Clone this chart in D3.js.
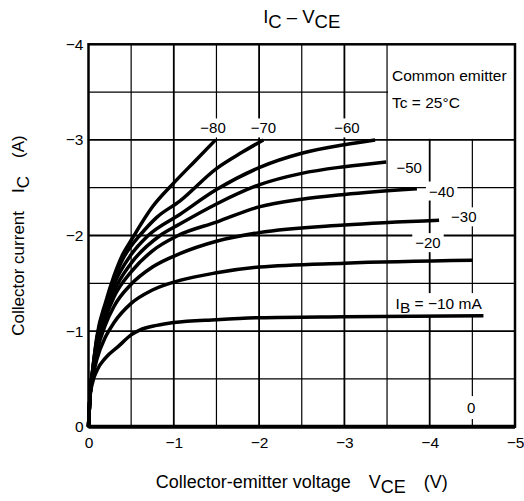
<!DOCTYPE html>
<html>
<head>
<meta charset="utf-8">
<script src="https://cdn.jsdelivr.net/npm/d3@7"></script>
<style>
  body { margin: 0; background: #fff; }
  text { font-family: "Liberation Sans", Arial, sans-serif; fill: #000; }
</style>
</head>
<body>
<script>
/* -----------------------------------------------------
 *  Data: IC (A) against VCE (V), one array per IB step
 ----------------------------------------------------- */
const ib80 = [[0,0],[-0.02,-0.35],[-0.05,-0.6],[-0.1,-0.95],[-0.2,-1.3],[-0.3,-1.58],[-0.4,-1.8],[-0.5,-1.95],[-0.75,-2.3],[-1.0,-2.55],[-1.25,-2.78],[-1.49,-3.0]];
const ib70 = [[0,0],[-0.02,-0.35],[-0.05,-0.6],[-0.1,-0.93],[-0.2,-1.27],[-0.3,-1.54],[-0.4,-1.75],[-0.5,-1.89],[-0.6,-2.0],[-0.8,-2.19],[-1.07,-2.36],[-1.5,-2.7],[-1.8,-2.87],[-2.05,-3.0]];
const ib60 = [[0,0],[-0.02,-0.35],[-0.05,-0.6],[-0.1,-0.9],[-0.2,-1.24],[-0.3,-1.49],[-0.5,-1.8],[-0.7,-2.0],[-1.07,-2.22],[-1.5,-2.48],[-2,-2.71],[-2.5,-2.86],[-3,-2.95],[-3.36,-3.0]];
const ib50 = [[0,0],[-0.02,-0.35],[-0.05,-0.58],[-0.1,-0.87],[-0.2,-1.19],[-0.3,-1.42],[-0.5,-1.71],[-0.84,-2.0],[-1.07,-2.12],[-1.5,-2.33],[-2,-2.53],[-2.5,-2.65],[-3,-2.72],[-3.49,-2.77]];
const ib40 = [[0,0],[-0.02,-0.35],[-0.05,-0.57],[-0.1,-0.84],[-0.2,-1.14],[-0.3,-1.36],[-0.5,-1.62],[-0.75,-1.84],[-1.05,-2.0],[-1.5,-2.14],[-2,-2.3],[-2.5,-2.38],[-3,-2.43],[-3.85,-2.49]];
const ib30 = [[0,0],[-0.02,-0.35],[-0.05,-0.55],[-0.1,-0.79],[-0.2,-1.07],[-0.3,-1.26],[-0.5,-1.49],[-0.75,-1.67],[-1.07,-1.81],[-1.5,-1.94],[-2,-2.03],[-3,-2.11],[-4.11,-2.16]];
const ib20 = [[0,0],[-0.02,-0.35],[-0.05,-0.52],[-0.1,-0.71],[-0.2,-0.94],[-0.3,-1.09],[-0.5,-1.29],[-0.75,-1.43],[-1.07,-1.53],[-1.5,-1.61],[-2,-1.67],[-3,-1.71],[-4.5,-1.74]];
const ib10 = [[0,0],[-0.02,-0.33],[-0.05,-0.47],[-0.1,-0.59],[-0.2,-0.72],[-0.35,-0.84],[-0.5,-0.96],[-0.6,-1.01],[-0.8,-1.06],[-1.0,-1.09],[-1.5,-1.12],[-2,-1.14],[-3,-1.15],[-4.63,-1.16]];
const ib0 = [[0,0],[-5,0]];

const xTicks = [0, -1, -2, -3, -4, -5];
const yTicks = [0, -1, -2, -3, -4];

/* -----------------------------------------------------
 *  Initial SVG setup
 ----------------------------------------------------- */
const width = 524;
const height = 501;
const plotL = 88.5, plotR = 515, plotT = 44.3, plotB = 426.7;

const svg = d3
  .select("body")
  .append("svg")
  .attr("width", width)
  .attr("height", height);

const x = d3.scaleLinear().domain([0, -5]).range([plotL, plotR]);
const y = d3.scaleLinear().domain([0, -4]).range([plotB, plotT]);

/* -----------------------------------------------------
 *  Grid
 ----------------------------------------------------- */
const gridV = d3.range(1, 10).map((i) => -i * 0.5);
const gridI = d3.range(1, 8).map((i) => -i * 0.5);

svg
  .selectAll(".gv")
  .data(gridV)
  .enter()
  .append("line")
  .attr("x1", (d) => x(d))
  .attr("x2", (d) => x(d))
  .attr("y1", y(0))
  .attr("y2", y(-4))
  .attr("stroke", "#000")
  .attr("stroke-width", (d) => (Number.isInteger(d) ? 1.8 : 1.2));

svg
  .selectAll(".gh")
  .data(gridI)
  .enter()
  .append("line")
  .attr("x1", x(0))
  .attr("x2", x(-5))
  .attr("y1", (d) => y(d))
  .attr("y2", (d) => y(d))
  .attr("stroke", "#000")
  .attr("stroke-width", (d) => (Number.isInteger(d) ? 1.8 : 1.2));

// legend box hides the grid behind it
svg
  .append("rect")
  .attr("x", x(-3.5) + 1)
  .attr("y", y(-4))
  .attr("width", x(-5) - x(-3.5) - 1)
  .attr("height", y(-3) - y(-4) - 1)
  .attr("fill", "#fff");

svg
  .append("text")
  .attr("x", x(-3.5) + 5)
  .attr("y", y(-3.62))
  .style("font-size", "15.5px")
  .text("Common emitter");
svg
  .append("text")
  .attr("x", x(-3.5) + 5)
  .attr("y", y(-3.33))
  .style("font-size", "15.5px")
  .text("Tc = 25°C");

/* -----------------------------------------------------
 *  Curve labels (white boxes cut the grid)
 ----------------------------------------------------- */
const labels = [
  { t: "−80", v: -1.46, i: -3.12 },
  { t: "−70", v: -2.05, i: -3.12 },
  { t: "−60", v: -3.03, i: -3.12 },
  { t: "−50", v: -3.76, i: -2.71 },
  { t: "−40", v: -4.14, i: -2.46 },
  { t: "−30", v: -4.4, i: -2.19 },
  { t: "−20", v: -3.98, i: -1.92 },
];

labels.forEach((d) => {
  const g = svg.append("g");
  const t = g
    .append("text")
    .attr("x", x(d.v))
    .attr("y", y(d.i) + 5)
    .attr("text-anchor", "middle")
    .style("font-size", "15px")
    .text(d.t);
  const b = t.node().getBBox();
  g.insert("rect", "text")
    .attr("x", b.x - 3)
    .attr("y", b.y - 1)
    .attr("width", b.width + 6)
    .attr("height", b.height + 2)
    .attr("fill", "#fff");
});

// IB = -10 mA label
const ibg = svg.append("g");
const ibText = ibg
  .append("text")
  .attr("x", x(-3.6))
  .attr("y", y(-1.23))
  .style("font-size", "15.5px");
ibText.append("tspan").text("I");
ibText.append("tspan").attr("dy", 4).text("B");
ibText.append("tspan").attr("dy", -4).text(" = −10 mA");
const ibb = ibText.node().getBBox();
ibg.insert("rect", "text")
  .attr("x", ibb.x - 3)
  .attr("y", ibb.y - 2)
  .attr("width", ibb.width + 6)
  .attr("height", ibb.height + 1)
  .attr("fill", "#fff");

// "0" box
svg
  .append("rect")
  .attr("x", x(-4.3))
  .attr("y", y(-0.32))
  .attr("width", x(-4.67) - x(-4.3))
  .attr("height", y(-0.08) - y(-0.32))
  .attr("fill", "#fff");
svg
  .append("text")
  .attr("x", x(-4.485))
  .attr("y", y(-0.2) + 5)
  .attr("text-anchor", "middle")
  .style("font-size", "15px")
  .text("0");

/* -----------------------------------------------------
 *  Curves
 ----------------------------------------------------- */
const line = d3
  .line()
  .x((d) => x(d[0]))
  .y((d) => y(d[1]))
  .curve(d3.curveMonotoneX);

svg
  .selectAll(".curve")
  .data([ib80, ib70, ib60, ib50, ib40, ib30, ib20, ib10])
  .enter()
  .append("path")
  .attr("class", "curve")
  .attr("d", line)
  .attr("fill", "none")
  .attr("stroke", "#000")
  .attr("stroke-width", 3.5);

/* -----------------------------------------------------
 *  Frame and axes
 ----------------------------------------------------- */
svg
  .append("rect")
  .attr("x", plotL)
  .attr("y", plotT)
  .attr("width", plotR - plotL)
  .attr("height", plotB - plotT)
  .attr("fill", "none")
  .attr("stroke", "#000")
  .attr("stroke-width", 2.5);

svg
  .append("path")
  .attr("d", line(ib0))
  .attr("stroke", "#000")
  .attr("stroke-width", 4);

const fmt = d3.format("d");
const xAxis = svg
  .append("g")
  .attr("transform", `translate(0,${plotB})`)
  .call(d3.axisBottom(x).tickValues(xTicks).tickFormat(fmt).tickSize(0).tickPadding(10));
const yAxis = svg
  .append("g")
  .attr("transform", `translate(${plotL},0)`)
  .call(d3.axisLeft(y).tickValues(yTicks).tickFormat(fmt).tickSize(0).tickPadding(5));

[xAxis, yAxis].forEach((a) => {
  a.select(".domain").remove();
  a.selectAll("text")
    .style("font-size", "15.5px")
    .style("font-family", "Liberation Sans, Arial, sans-serif");
});

/* -----------------------------------------------------
 *  Titles
 ----------------------------------------------------- */
const title = svg
  .append("text")
  .attr("x", (plotL + plotR) / 2)
  .attr("y", 23)
  .attr("text-anchor", "middle")
  .style("font-size", "18.5px");
title.append("tspan").text("I");
title.append("tspan").attr("dy", 5).text("C");
title.append("tspan").attr("dy", -5).text(" – V");
title.append("tspan").attr("dy", 5).text("CE");

const xTitle = svg
  .append("text")
  .attr("x", (plotL + plotR) / 2)
  .attr("y", 488)
  .attr("text-anchor", "middle")
  .style("font-size", "18px");
xTitle.append("tspan").text("Collector-emitter voltage");
xTitle.append("tspan").attr("dx", 18).text("V");
xTitle.append("tspan").attr("dy", 5).text("CE");
xTitle.append("tspan").attr("dy", -5).attr("dx", 18).text("(V)");

const yTitle = svg
  .append("text")
  .attr("transform", `translate(24,${(plotT + plotB) / 2}) rotate(-90)`)
  .attr("text-anchor", "middle")
  .style("font-size", "17px");
yTitle.append("tspan").text("Collector current");
yTitle.append("tspan").attr("dx", 18).text("I");
yTitle.append("tspan").attr("dy", 5).text("C");
yTitle.append("tspan").attr("dy", -5).attr("dx", 18).text("(A)");
</script>
</body>
</html>
